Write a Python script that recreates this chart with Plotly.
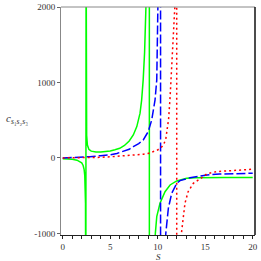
import plotly.graph_objects as go

# Green solid curve
green_x = [0, 0.5, 1.0, 1.5, 1.8, 2.0, 2.15, 2.25, 2.32, 2.37, 2.40, 2.43,
           2.46, 2.49, 2.52, 2.6, 2.75, 3.0, 3.5, 4.0, 4.5, 5.0, 5.5, 6.0, 6.5, 7.0,
           7.43, 7.8, 8.14, 8.31, 8.47, 8.62, 8.76, 8.9, 9.11,
           9.13, 9.6, 9.75, 9.9, 10.24, 10.77, 11.3, 12.0, 13.05, 14.0, 15.5, 17.0, 20.0]
green_y = [-10, -13, -18, -30, -45, -65, -100, -150, -230, -350, -600, -3000,
           3000, 1000, 300, 170, 115, 90, 78, 78, 82, 92, 108, 128, 165, 225,
           305, 415, 593, 770, 1034, 1400, 2000, 3000, 20000,
           -20000, -1500, -1000, -778, -601, -447, -358, -305, -270, -262, -256, -258, -259]

# Blue dashed curve
blue_x = [0, 1.0, 2.0, 2.87, 4.0, 4.98, 5.7, 6.38, 7.0, 7.43, 8.0, 8.48, 9.0, 9.37,
          9.72, 9.9, 10.07, 10.2, 10.29,
          10.31, 10.7, 10.85, 11.12, 11.47, 12.0, 12.35, 13.4, 14.3, 15.2, 16.5, 18.0, 20.0]
blue_y = [0, 3, 8, 17, 30, 40, 60, 84, 115, 150, 190, 239, 349, 504,
          770, 1034, 2000, 3500, 20000,
          -20000, -1500, -1000, -667, -469, -336, -300, -262, -240, -225, -213, -207, -203]

# Red dotted curve
red_x = [0, 2.0, 3.0, 3.93, 5.0, 6.38, 7.5, 8.14, 8.48, 9.0, 9.5, 9.9, 10.3, 10.6,
         10.85, 11.0, 11.15, 11.3, 11.47, 11.65, 11.82, 11.99,
         12.01, 12.4, 12.53, 12.7, 12.87, 13.2, 13.75, 14.8, 15.16, 16.2, 18.0, 20.0]
red_y = [0, 2, 5, 8, 15, 27, 40, 45, 48, 60, 80, 100, 130, 170,
         250, 370, 520, 800, 1200, 1650, 2050, 20000,
         -20000, -1100, -955, -778, -600, -447, -336, -248, -210, -181, -168, -150]

x_ticks = [0, 5, 10, 15, 20]
y_ticks = [-1000, 0, 1000, 2000]

fig = go.Figure()
fig.add_trace(go.Scatter(x=green_x, y=green_y, mode="lines",
                         line=dict(color="#00ff00", width=1.5), showlegend=False))
fig.add_trace(go.Scatter(x=blue_x, y=blue_y, mode="lines",
                         line=dict(color="#0000ff", width=1.5, dash="9px,3px"), showlegend=False))
fig.add_trace(go.Scatter(x=red_x, y=red_y, mode="lines",
                         line=dict(color="#ff0000", width=1.5, dash="2px,3px"), showlegend=False))

tickfont = dict(family="Liberation Serif, Times New Roman, serif", size=9, color="#333")

fig.update_layout(
    width=261, height=261,
    margin=dict(l=61, r=6, t=7, b=26, autoexpand=False),
    paper_bgcolor="white", plot_bgcolor="white",
    xaxis=dict(range=[-0.18, 20.24], tickvals=x_ticks, ticktext=[str(v) for v in x_ticks],
               automargin=False,
               showgrid=False, zeroline=False, showline=True, linecolor="#222", linewidth=1,
               ticks="outside", ticklen=3, tickcolor="#222", tickfont=tickfont,
               minor=dict(dtick=1, ticks="outside", ticklen=3, tickcolor="#222")),
    yaxis=dict(range=[-1021, 2000], tickvals=y_ticks, ticktext=[str(v) for v in y_ticks],
               automargin=False,
               showgrid=False, zeroline=False, showline=True, linecolor="#888", linewidth=1,
               ticks="outside", ticklen=3, tickcolor="#666", tickfont=tickfont),
    shapes=[
        dict(type="line", xref="paper", yref="paper", x0=0, x1=1, y0=1, y1=1,
             line=dict(color="#888", width=1)),
        dict(type="line", xref="paper", yref="paper", x0=1, x1=1, y0=0, y1=1,
             line=dict(color="#111", width=1.5)),
    ],
    annotations=[
        dict(text="<i>c</i><sub><i>s</i>\u2081<i>s</i>\u2082<i>s</i>\u2083</sub>",
             xref="paper", yref="paper", x=-0.225, y=0.51, xanchor="center", yanchor="middle",
             showarrow=False, font=dict(family="Liberation Serif, serif", size=11, color="#333")),
        dict(text="<i>S</i>",
             xref="paper", yref="paper", x=0.5, y=-0.097, xanchor="center", yanchor="middle",
             showarrow=False, font=dict(family="Liberation Serif, serif", size=9, color="#333")),
    ],
)

fig.write_html("out.html", config={"displayModeBar": False},
               post_script="document.body.style.margin='0';document.body.style.overflow='hidden';")
